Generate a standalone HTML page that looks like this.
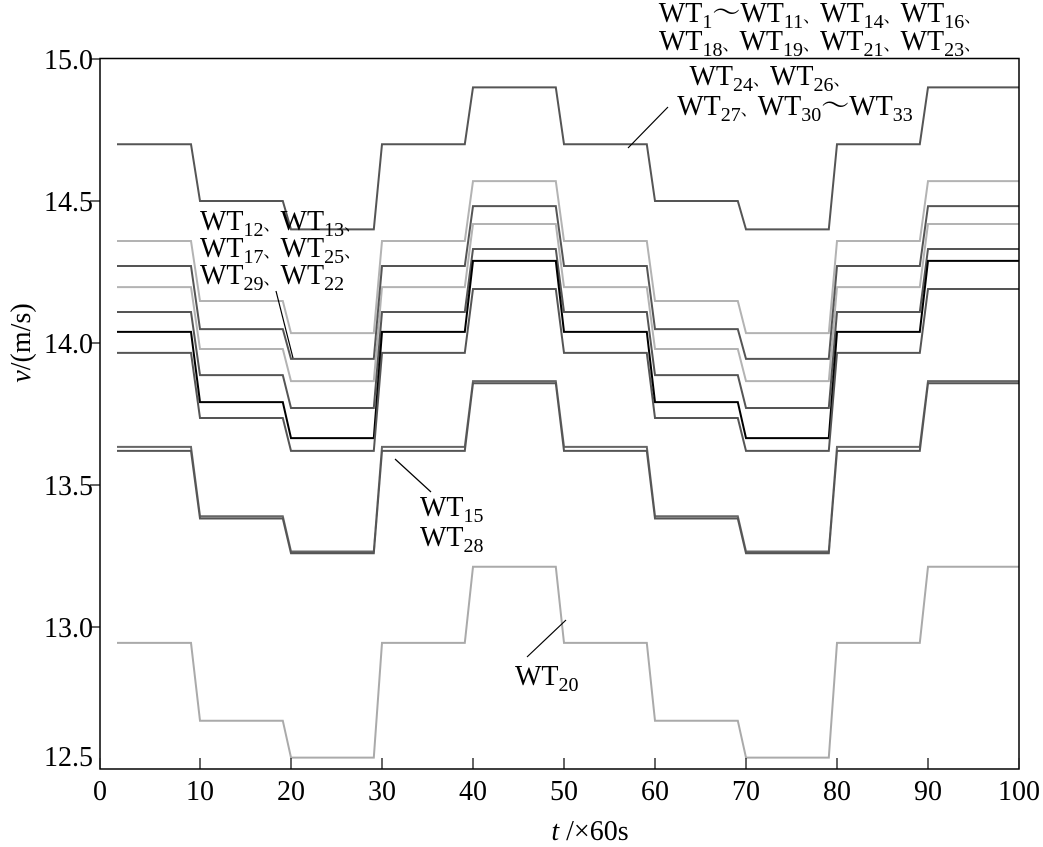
<!DOCTYPE html>
<html><head><meta charset="utf-8"><style>
body{margin:0;background:#fff}
svg{display:block;font-family:"Liberation Serif","Noto Serif CJK SC",serif}
.c{font-size:17px}
.s{font-size:20px}
</style></head><body>
<svg id="chart" width="1043" height="847" xmlns="http://www.w3.org/2000/svg">
<g id="series"></g>
<rect x="100" y="58.5" width="919" height="710.5" fill="none" stroke="#000" stroke-width="1.5"/>
<g id="axes"></g>
<g font-size="28" fill="#000">
<text x="820" y="22" text-anchor="middle">WT<tspan class="s" dy="6">1</tspan><tspan dy="-6">～WT</tspan><tspan class="s" dy="6">11</tspan><tspan class="c" dy="-6">、</tspan><tspan>WT</tspan><tspan class="s" dy="6">14</tspan><tspan class="c" dy="-6">、</tspan><tspan>WT</tspan><tspan class="s" dy="6">16</tspan><tspan class="c" dy="-6">、</tspan></text>
<text x="820" y="50" text-anchor="middle">WT<tspan class="s" dy="6">18</tspan><tspan class="c" dy="-6">、</tspan><tspan>WT</tspan><tspan class="s" dy="6">19</tspan><tspan class="c" dy="-6">、</tspan><tspan>WT</tspan><tspan class="s" dy="6">21</tspan><tspan class="c" dy="-6">、</tspan><tspan>WT</tspan><tspan class="s" dy="6">23</tspan><tspan class="c" dy="-6">、</tspan></text>
<text x="770" y="85" text-anchor="middle">WT<tspan class="s" dy="6">24</tspan><tspan class="c" dy="-6">、</tspan><tspan>WT</tspan><tspan class="s" dy="6">26</tspan><tspan class="c" dy="-6">、</tspan></text>
<text x="795" y="115" text-anchor="middle">WT<tspan class="s" dy="6">27</tspan><tspan class="c" dy="-6">、</tspan><tspan>WT</tspan><tspan class="s" dy="6">30</tspan><tspan dy="-6">～WT</tspan><tspan class="s" dy="6">33</tspan></text>
<line x1="628" y1="148" x2="668" y2="107" stroke="#000" stroke-width="1.2"/>
<text x="200" y="230">WT<tspan class="s" dy="6">12</tspan><tspan class="c" dy="-6">、</tspan><tspan>WT</tspan><tspan class="s" dy="6">13</tspan><tspan class="c" dy="-6">、</tspan></text>
<text x="200" y="257">WT<tspan class="s" dy="6">17</tspan><tspan class="c" dy="-6">、</tspan><tspan>WT</tspan><tspan class="s" dy="6">25</tspan><tspan class="c" dy="-6">、</tspan></text>
<text x="200" y="284">WT<tspan class="s" dy="6">29</tspan><tspan class="c" dy="-6">、</tspan><tspan>WT</tspan><tspan class="s" dy="6">22</tspan></text>
<line x1="276" y1="291" x2="293" y2="358" stroke="#000" stroke-width="1.2"/>
<text x="420" y="516">WT<tspan class="s" dy="6">15</tspan></text>
<text x="420" y="546">WT<tspan class="s" dy="6">28</tspan></text>
<line x1="395" y1="459" x2="431" y2="492" stroke="#000" stroke-width="1.2"/>
<text x="515" y="685">WT<tspan class="s" dy="6">20</tspan></text>
<line x1="566" y1="620" x2="527" y2="657" stroke="#000" stroke-width="1.2"/>
<text x="590" y="840" text-anchor="middle"><tspan font-style="italic">t</tspan> /×60s</text>
<text transform="translate(30,343) rotate(-90)" text-anchor="middle"><tspan font-style="italic">v</tspan>/(m/s)</text>
</g>
</svg>
<script>
const xTicks = [0,10,20,30,40,50,60,70,80,90,100];
const yTicks = [12.5,13.0,13.5,14.0,14.5,15.0];
const pattern = [0,1,2,0,3,0,1,2,0,3];
const seriesNames = ["wt1-group","wt12","wt13","wt17","wt25","wt29","wt22","wt15","wt28","wt20"];
const levelsTop = [14.70,14.50,14.40,14.90];
const levelsL1 = [14.359,14.148,14.035,14.570];
const levelsL2 = [14.271,14.049,13.944,14.482];
const levelsL3 = [14.197,13.979,13.866,14.419];
const levelsL4 = [14.109,13.887,13.771,14.331];
const levelsL5 = [14.039,13.792,13.665,14.289];
const levelsL6 = [13.965,13.736,13.620,14.190];
const levelsWT15 = [13.634,13.390,13.266,13.866];
const levelsWT28 = [13.620,13.382,13.260,13.858];
const levelsWT20 = [12.944,12.670,12.540,13.212];
const allLevels = [levelsTop,levelsL1,levelsL2,levelsL3,levelsL4,levelsL5,levelsL6,levelsWT15,levelsWT28,levelsWT20];
const colors = ["#555","#b3b3b3","#555","#b3b3b3","#555","#000","#555","#666","#555","#aaa"];
function xs(t){ if(t<=10) return 100+t*10; return 200+(t-10)*(1019-200)/90; }
function ys(v){ return 769-(v-12.5)*284; }
const NS="http://www.w3.org/2000/svg";
const sg=document.getElementById('series');
allLevels.forEach((lv,i)=>{
  let pts=[];
  pattern.forEach((p,k)=>{
    const t0 = k===0 ? 1.7 : 10*k;
    const t1 = 10*k+9.1;
    pts.push(xs(t0).toFixed(1)+","+ys(lv[p]).toFixed(1));
    pts.push(xs(k===9?100:t1).toFixed(1)+","+ys(lv[p]).toFixed(1));
  });
  const pl=document.createElementNS(NS,'polyline');
  pl.setAttribute('points',pts.join(' '));
  pl.setAttribute('fill','none');
  pl.setAttribute('stroke',colors[i]);
  pl.setAttribute('stroke-width','2');
  
  
  sg.appendChild(pl);
});
const ag=document.getElementById('axes');
xTicks.forEach(t=>{
  const x=xs(t);
  const l=document.createElementNS(NS,'line');
  l.setAttribute('x1',x);l.setAttribute('x2',x);l.setAttribute('y1',769);l.setAttribute('y2',758);
  l.setAttribute('stroke','#000');l.setAttribute('stroke-width','1.2');
  
  
  ag.appendChild(l);
  const tx=document.createElementNS(NS,'text');
  tx.setAttribute('x',x);tx.setAttribute('y',800);tx.setAttribute('text-anchor','middle');tx.setAttribute('font-size','28');
  tx.textContent=t;
  
  
  ag.appendChild(tx);
});
yTicks.forEach(v=>{
  const y=ys(v);
  if(v>12.5){
    const l=document.createElementNS(NS,'line');
    l.setAttribute('x1',100);l.setAttribute('x2',90);l.setAttribute('y1',y);l.setAttribute('y2',y);
    l.setAttribute('stroke','#000');l.setAttribute('stroke-width','1.2');
    
    
    ag.appendChild(l);
  }
  const tx=document.createElementNS(NS,'text');
  tx.setAttribute('x',93);tx.setAttribute('y',Math.min(y+10,766));tx.setAttribute('text-anchor','end');tx.setAttribute('font-size','28');
  tx.textContent=v.toFixed(1);
  
  
  ag.appendChild(tx);
});
</script>
</body></html>
